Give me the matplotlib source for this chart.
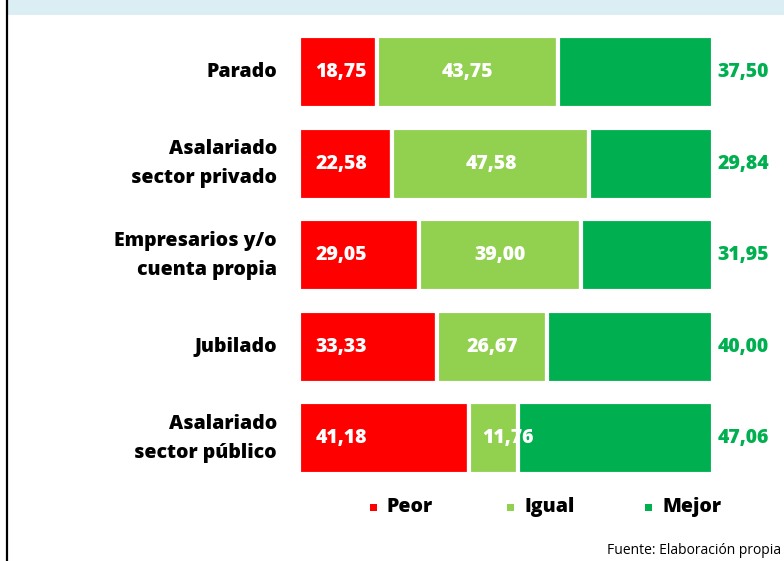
import matplotlib
matplotlib.use("Agg")
import matplotlib.pyplot as plt
from matplotlib.patches import Rectangle

plt.rcParams["font.family"] = ["Open Sans", "DejaVu Sans"]

categories = ["Parado", "Asalariado\nsector privado", "Empresarios y/o\ncuenta propia",
              "Jubilado", "Asalariado\nsector público"]
peor = [18.75, 22.58, 29.05, 33.33, 41.18]
igual = [43.75, 47.58, 39.00, 26.67, 11.76]
mejor = [37.50, 29.84, 31.95, 40.00, 47.06]
series_names = ["Peor", "Igual", "Mejor"]

c_peor = "#FF0000"
c_igual = "#92D050"
c_mejor = "#00B050"
colors = [c_peor, c_igual, c_mejor]

W, H = 784, 561
fig = plt.figure(figsize=(W / 100, H / 100), dpi=100)

def px(x, y):
    # pixel (from top-left) -> figure fraction
    return x / W, 1 - y / H

# light blue band along the top and dark rule at the left edge
fig.patches.append(Rectangle(px(8, 15), 1, 15 / H, transform=fig.transFigure,
                             facecolor="#DAEEF3", edgecolor="none", zorder=0))
fig.add_artist(plt.Line2D([6.5 / W, 6.5 / W], [0, 1], transform=fig.transFigure,
                          color="black", linewidth=1.6))

# axes placed so 0..100 maps onto the bar span (white stroke eats 2 px each side)
ax = fig.add_axes([299 / W, 1 - 484 / H, 414 / W, 457.5 / H])
ax.set_xlim(0, 100)
ax.set_ylim(4.5, -0.5)
ax.axis("off")

ys = list(range(len(categories)))
fmt = lambda v: f"{v:.2f}".replace(".", ",")
bh = 0.79
ew = 3.0
fs = 14
fw = 800

ax.barh(ys, peor, height=bh, color=c_peor, edgecolor="white", linewidth=ew, zorder=2)
ax.barh(ys, igual, left=peor, height=bh, color=c_igual, edgecolor="white", linewidth=ew, zorder=2)
left_m = [p + i for p, i in zip(peor, igual)]
ax.barh(ys, mejor, left=left_m, height=bh, color=c_mejor, edgecolor="white", linewidth=ew, zorder=2)

for y, p, i, m, lab in zip(ys, peor, igual, mejor, categories):
    ax.annotate(fmt(p), (0, y), xytext=(12, 0), textcoords="offset points",
                ha="left", va="center", color="white", fontsize=fs, fontweight=fw, zorder=5)
    if i >= 15:
        ax.text(p + i / 2, y, fmt(i), ha="center", va="center", color="white",
                fontsize=fs, fontweight=fw, zorder=5)
    else:
        # narrow segment: Excel pushes the label to the right, it spills over
        ax.annotate(fmt(i), (p, y), xytext=(9.5, 0), textcoords="offset points",
                    ha="left", va="center", color="white", fontsize=fs,
                    fontweight=fw, zorder=5)
    ax.annotate(fmt(m), (100, y), xytext=(3, 0), textcoords="offset points",
                ha="left", va="center", color=c_mejor, fontsize=fs, fontweight=fw)
    ax.annotate(lab, (0, y), xytext=(-16, 0), textcoords="offset points",
                ha="right", va="center", color="black", fontsize=fs, fontweight=fw,
                linespacing=1.6, multialignment="right", annotation_clip=False)

# legend, drawn by hand to match the spacing of the original
leg_x = [370, 507, 645]
for x0, name, c in zip(leg_x, series_names, colors):
    fig.patches.append(Rectangle(px(x0, 511), 7 / W, 7 / H, transform=fig.transFigure,
                                 facecolor=c, edgecolor="none"))
    fig.text(*px(x0 + 17, 507), name, ha="left", va="center", fontsize=fs,
             fontweight=fw)

fig.text(*px(781, 551), "Fuente: Elaboración propia", ha="right", va="center",
         fontsize=10)

fig.savefig("out.png", dpi=100)
